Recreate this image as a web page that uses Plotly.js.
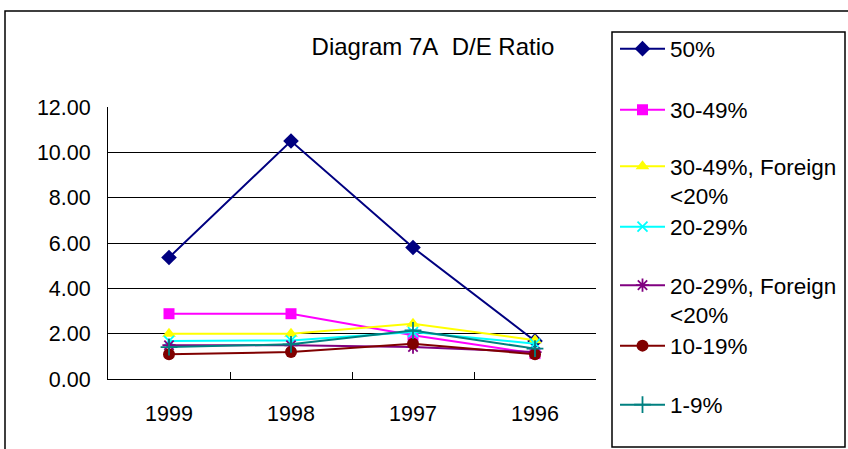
<!DOCTYPE html>
<html>
<head>
<meta charset="utf-8">
<script src="https://cdn.plot.ly/plotly-3.0.1.min.js"></script>
<style>html,body{margin:0;padding:0;background:#fff;}#chart{width:848px;height:449px;}</style>
</head>
<body>
<div id="chart"></div>
<script>
var years = ["1999", "1998", "1997", "1996"];
var seriesNames = ["50%", "30-49%", "30-49%, Foreign<br><20%", "20-29%", "20-29%, Foreign<br><20%", "10-19%", "1-9%"];
var s50 = [5.36, 10.50, 5.80, 1.68];
var s30_49 = [2.88, 2.88, 1.93, 1.12];
var s30_49F = [2.00, 2.00, 2.44, 1.71];
var s20_29 = [1.68, 1.70, 2.07, 1.56];
var s20_29F = [1.49, 1.49, 1.41, 1.19];
var s10_19 = [1.09, 1.19, 1.56, 1.09];
var s1_9 = [1.41, 1.53, 2.14, 1.34];
var yTicks = [0, 2, 4, 6, 8, 10, 12];

var values = [s50, s30_49, s30_49F, s20_29, s20_29F, s10_19, s1_9];
var colors = ["#000080", "#FF00FF", "#FFFF00", "#00FFFF", "#800080", "#800000", "#008080"];
var symbols = ["diamond", "square", "triangle-up", "x-thin-open", "asterisk-open", "circle", "cross-thin-open"];
var sizes = [12, 11, 12, 10, 11, 12, 12];
var legendIds = ["legend", "legend2", "legend3", "legend4", "legend5", "legend6", "legend7"];
var legendY = [49, 110, 168, 227, 287, 346, 405]; // symbol centre (px)
var multiline = [false, false, true, false, true, false, false];

var FONT = "Liberation Sans, Arial, sans-serif";
var plotL = 108, plotR = 596, plotT = 107, plotB = 379;
function px2x(p) { return (p - plotL) / (plotR - plotL); }
function py2y(p) { return (plotB - p) / (plotB - plotT); }

var traces = values.map(function (v, i) {
  return {
    type: "scatter", mode: "lines+markers",
    x: years, y: v, name: seriesNames[i],
    legend: legendIds[i], showlegend: true,
    line: { color: colors[i], width: 2 },
    marker: { symbol: symbols[i], size: sizes[i], color: colors[i],
              line: { color: colors[i], width: (symbols[i].indexOf("open") >= 0 ? 1.8 : 0) } }
  };
});

var layout = {
  width: 848, height: 449, showlegend: true,
  paper_bgcolor: "#ffffff", plot_bgcolor: "#ffffff",
  margin: { l: plotL, r: 848 - plotR, t: plotT, b: 449 - plotB, autoexpand: false },
  font: { family: FONT, size: 21, color: "#000" },
  title: { text: "Diagram 7A&nbsp;&nbsp;D/E Ratio", xref: "container", x: 433 / 848, xanchor: "center",
           yref: "container", y: 1 - 47 / 449, yanchor: "middle", font: { family: FONT, size: 24, color: "#000" } },
  xaxis: {
    type: "category", tickson: "boundaries", ticks: "inside", ticklen: 7, tickcolor: "#000", tickwidth: 1,
    showline: true, linecolor: "#000", linewidth: 1, showgrid: false, zeroline: false,
    ticklabelstandoff: 15, tickfont: { family: FONT, size: 21.5 }, range: [-0.5, 3.5]
  },
  yaxis: {
    range: [0, 12], tickvals: yTicks, tickformat: ".2f", ticks: "inside", ticklen: 8, tickcolor: "#000",
    showline: true, linecolor: "#000", linewidth: 1, showgrid: true, gridcolor: "#000", gridwidth: 1,
    zeroline: false, ticklabelstandoff: 12, tickfont: { family: FONT, size: 21.5 }
  },
  shapes: [
    { type: "rect", xref: "paper", yref: "paper", x0: px2x(5), x1: px2x(852), y0: py2y(456), y1: py2y(11),
      line: { color: "#000", width: 1.5 }, fillcolor: "rgba(0,0,0,0)", layer: "below" },
    { type: "rect", xref: "paper", yref: "paper", x0: px2x(612), x1: px2x(845), y0: py2y(447), y1: py2y(32),
      line: { color: "#000", width: 1.5 }, fillcolor: "rgba(0,0,0,0)", layer: "below" }
  ]
};

legendIds.forEach(function (id, i) {
  var yc = legendY[i] + (multiline[i] ? 13 : 0);
  layout[id] = {
    x: px2x(615), xanchor: "left", y: py2y(yc), yanchor: "middle",
    bgcolor: "rgba(0,0,0,0)", borderwidth: 0, itemwidth: 45,
    valign: "top", font: { family: FONT, size: 22.5, color: "#000" }
  };
});

Plotly.newPlot("chart", traces, layout, { displayModeBar: false, staticPlot: true });
</script>
</body>
</html>
